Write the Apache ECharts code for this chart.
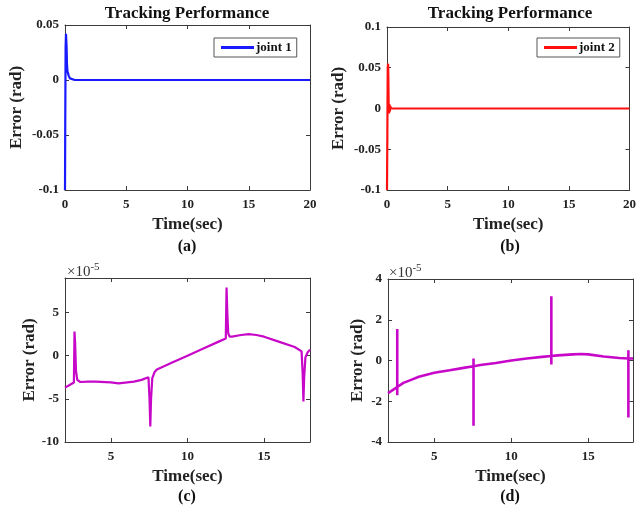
<!DOCTYPE html>
<html>
<head>
<meta charset="utf-8">
<script src="https://cdn.jsdelivr.net/npm/echarts@6/dist/echarts.min.js"></script>
<style>
  html, body { margin: 0; padding: 0; background: #fff; }
  #chart { width: 639px; height: 510px; }
</style>
</head>
<body>
<div id="chart"></div>
<script>
// (a) joint 1 tracking error, rad
var timeA = [0, 0.02, 0.05, 0.08, 0.1, 0.13, 0.16, 0.2, 0.25, 0.3, 0.4, 0.55, 0.8, 2, 5, 10, 15, 20];
var errA  = [-0.1, -0.04, 0.03, 0.042, 0.042, 0.03, 0.015, 0.008, 0.006, 0.004, 0.0015, 0, 0, 0, 0, 0, 0, 0];
// (b) joint 2 tracking error, rad
var timeB = [0, 0.03, 0.06, 0.09, 0.11, 0.14, 0.17, 0.2, 0.23, 0.27, 0.32, 0.5, 2, 5, 10, 15, 20];
var errB  = [-0.1, -0.03, 0.05, 0.055, 0.04, 0.0, -0.006, 0.005, -0.004, 0.003, 0, 0, 0, 0, 0, 0, 0];
// (c) zoomed joint 1 error, x1e-5 rad
var timeC = [2, 2.3, 2.58, 2.62, 2.66, 2.72, 2.8, 3.0, 3.5, 4, 5, 5.5, 6.5, 7, 7.45, 7.52, 7.57, 7.62, 7.7, 7.85, 8.0, 9, 10, 11, 12, 12.5, 12.55, 12.6, 12.66, 12.75, 12.9, 13.5, 14, 14.5, 15, 16, 17, 17.45, 17.52, 17.57, 17.62, 17.7, 17.85, 18];
var errC  = [-3.7, -3.4, -3.1, 2.8, 1.5, -1.8, -2.8, -3.05, -3.0, -3.0, -3.1, -3.2, -3.0, -2.8, -2.5, -5, -8.2, -5, -2.6, -1.9, -1.6, -0.8, 0, 0.8, 1.6, 2.0, 7.9, 5, 2.6, 2.2, 2.2, 2.4, 2.5, 2.4, 2.2, 1.6, 1.0, 0.5, -2, -5.3, -2.5, -0.2, 0.4, 0.7];
// (d) zoomed joint 2 error, x1e-5 rad
var timeD = [2, 2.3, 2.6, 2.6, 2.6, 2.6, 2.63, 3, 3.5, 4, 5, 6, 7, 7.55, 7.55, 7.55, 7.55, 7.6, 8, 9, 10, 11, 12, 12.6, 12.6, 12.6, 12.6, 12.65, 13, 14, 14.5, 15, 16, 17, 17.6, 17.6, 17.6, 17.6, 17.65, 17.9];
var errD  = [-1.6, -1.45, -1.3, 1.55, -1.7, -1.3, -1.25, -1.1, -0.95, -0.8, -0.6, -0.48, -0.35, -0.28, 0.1, -3.2, -0.28, -0.26, -0.22, -0.12, 0, 0.1, 0.18, 0.22, 3.15, -0.2, 0.22, 0.24, 0.25, 0.3, 0.32, 0.3, 0.2, 0.12, 0.1, 0.5, -2.8, 0.1, 0.1, 0.1];

var ticksA = [-0.1, -0.05, 0, 0.05];
var ticksB = [-0.1, -0.05, 0, 0.05, 0.1];
var ticksC = [-10, -5, 0, 5];
var ticksD = [-4, -2, 0, 2, 4];
var timeTicksTop = [0, 5, 10, 15, 20];
var timeTicksBottom = [5, 10, 15];

var legendNames = ['joint 1', 'joint 2'];
var panelLabels = ['(a)', '(b)', '(c)', '(d)'];
var titleText = 'Tracking Performance';

var FONT = 'Liberation Serif';
var axisColor = '#3a3a3a';

function zip(xs, ys) {
    var out = [];
    for (let i = 0; i < xs.length; i++) out.push([xs[i], ys[i]]);
    return out;
}

var panels = [
    { grid: { left: 65, top: 25, width: 245, height: 165 }, x: [0, 20], xt: timeTicksTop, y: [-0.1, 0.05], yt: ticksA, gap: 40 },
    { grid: { left: 387, top: 27, width: 245, height: 163 }, x: [0, 20], xt: timeTicksTop, y: [-0.1, 0.1], yt: ticksB, gap: 40 },
    { grid: { left: 65, top: 278, width: 245, height: 164 }, x: [2, 18], xt: timeTicksBottom, y: [-10, 9], yt: ticksC, gap: 26 },
    { grid: { left: 388, top: 279, width: 245, height: 163 }, x: [2, 17.9], xt: timeTicksBottom, y: [-4, 4], yt: ticksD, gap: 22 }
];

var grids = [], xAxes = [], yAxes = [];
panels.forEach(function (p, i) {
    grids.push(Object.assign({ show: false }, p.grid));
    var tick = { show: true, inside: true, length: 4, lineStyle: { color: axisColor } };
    var lbl = { color: '#222', fontFamily: FONT, fontWeight: 'bold', fontSize: 13 };
    // main axes
    xAxes.push({
        gridIndex: i, type: 'value', min: p.x[0], max: p.x[1], position: 'bottom',
        name: 'Time(sec)', nameLocation: 'middle', nameGap: 26,
        nameTextStyle: { color: '#222', fontFamily: FONT, fontWeight: 'bold', fontSize: 17 },
        axisLine: { show: true, onZero: false, lineStyle: { color: axisColor } },
        axisTick: Object.assign({ customValues: p.xt }, tick),
        axisLabel: Object.assign({ customValues: p.xt, margin: 8 }, lbl),
        splitLine: { show: false }
    });
    yAxes.push({
        gridIndex: i, type: 'value', min: p.y[0], max: p.y[1], position: 'left',
        name: 'Error (rad)', nameLocation: 'middle', nameGap: p.gap,
        nameTextStyle: { color: '#222', fontFamily: FONT, fontWeight: 'bold', fontSize: 17 },
        axisLine: { show: true, onZero: false, lineStyle: { color: axisColor } },
        axisTick: Object.assign({ customValues: p.yt }, tick),
        axisLabel: Object.assign({ customValues: p.yt, margin: 6 }, lbl),
        splitLine: { show: false }
    });
    // box edges with ticks (top / right)
    xAxes.push({
        gridIndex: i, type: 'value', min: p.x[0], max: p.x[1], position: 'top',
        axisLine: { show: true, onZero: false, lineStyle: { color: axisColor } },
        axisTick: Object.assign({ customValues: p.xt }, tick),
        axisLabel: { show: false }, splitLine: { show: false }
    });
    yAxes.push({
        gridIndex: i, type: 'value', min: p.y[0], max: p.y[1], position: 'right',
        axisLine: { show: true, onZero: false, lineStyle: { color: axisColor } },
        axisTick: Object.assign({ customValues: p.yt }, tick),
        axisLabel: { show: false }, splitLine: { show: false }
    });
});

var seriesData = [zip(timeA, errA), zip(timeB, errB), zip(timeC, errC), zip(timeD, errD)];
var colors = ['#1a1aff', '#ff1010', '#c808c8', '#c808c8'];
var widths = [2.2, 2.2, 2.2, 2.6];
var series = seriesData.map(function (d, i) {
    return {
        type: 'line', name: i < 2 ? legendNames[i] : 'zoom' + i,
        xAxisIndex: i * 2, yAxisIndex: i * 2,
        data: d, showSymbol: false, symbol: 'none', animation: false,
        lineStyle: { color: colors[i], width: widths[i] }, itemStyle: { color: colors[i] }
    };
});

var legendBase = {
    orient: 'vertical', top: 38, itemWidth: 33, itemHeight: 3, icon: 'rect',
    borderColor: '#555', borderWidth: 1, padding: [3, 5, 3, 7], itemGap: 4,
    textStyle: { color: '#111', fontFamily: FONT, fontWeight: 'bold', fontSize: 13, padding: [0, 0, 0, -3] },
    selectedMode: false
};

var graphics = [];
[187, 510].forEach(function (cx) {
    graphics.push({ type: 'text', x: cx, y: 14, style: { text: titleText, textAlign: 'center', textVerticalAlign: 'middle', fill: '#111', font: 'bold 17px "' + FONT + '"' } });
});
[[187, 247], [510, 247], [187, 497], [510, 497]].forEach(function (pt, i) {
    graphics.push({ type: 'text', x: pt[0], y: pt[1], style: { text: panelLabels[i], textAlign: 'center', textVerticalAlign: 'middle', fill: '#111', font: 'bold 16px "' + FONT + '"' } });
});
[[67, 262], [389, 263]].forEach(function (pt) {
    graphics.push({
        type: 'text', x: pt[0], y: pt[1],
        style: {
            text: '×10{s|-5}', fill: '#333', font: '15px "' + FONT + '"',
            rich: { s: { fontSize: 11, verticalAlign: 'top', padding: [0, 0, 9, 0], fontFamily: FONT, fill: '#333' } }
        }
    });
});

var chart = echarts.init(document.getElementById('chart'));
chart.setOption({
    animation: false,
    backgroundColor: '#fff',
    grid: grids,
    xAxis: xAxes,
    yAxis: yAxes,
    legend: [
        Object.assign({ data: ['joint 1'], left: 214 }, legendBase),
        Object.assign({ data: ['joint 2'], left: 537 }, legendBase)
    ],
    graphic: graphics,
    series: series
});
</script>
</body>
</html>
